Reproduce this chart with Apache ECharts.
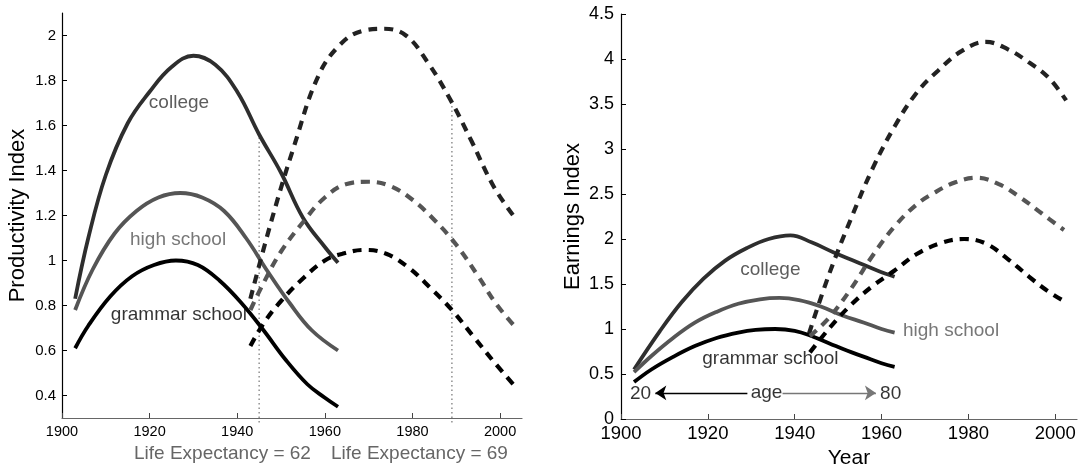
<!DOCTYPE html>
<html><head><meta charset="utf-8">
<script src="https://cdn.jsdelivr.net/npm/echarts@6/dist/echarts.min.js"></script>
<style>html,body{margin:0;padding:0;background:#fff}#c{width:1084px;height:471px}</style>
</head><body><div id="c"></div>
<script>
const FONT = '"Liberation Sans", Arial, Helvetica, sans-serif';

// ---- tick labels ----
const xTicks = [1900, 1920, 1940, 1960, 1980, 2000];
const prodTicks = [0.4, 0.6, 0.8, 1, 1.2, 1.4, 1.6, 1.8, 2];
const earnTicks = [0, 0.5, 1, 1.5, 2, 2.5, 3, 3.5, 4, 4.5];

// ---- Productivity index (left panel): [year, value] ----
const prodCollege = [[1903,0.83],[1906,1.10],[1910,1.38],[1915,1.61],[1920,1.75],[1925,1.86],[1930,1.91],[1935,1.87],[1940,1.75],[1945,1.56],[1950,1.39],[1955,1.19],[1960,1.06],[1963,0.99]];
const prodHigh = [[1903,0.78],[1907,0.96],[1912,1.12],[1917,1.22],[1922,1.28],[1927,1.30],[1932,1.28],[1937,1.22],[1942,1.10],[1947,0.95],[1952,0.81],[1957,0.69],[1963,0.60]];
const prodGrammar = [[1903,0.61],[1906,0.71],[1911,0.84],[1916,0.93],[1921,0.98],[1926,1.00],[1931,0.98],[1936,0.91],[1941,0.81],[1946,0.69],[1951,0.56],[1956,0.45],[1960,0.39],[1963,0.35]];
const prodCollegeFut = [[1943,0.83],[1948,1.19],[1953,1.51],[1958.5,1.82],[1963.5,1.96],[1968.5,2.02],[1973.5,2.03],[1978.5,2.00],[1983.5,1.88],[1988.5,1.72],[1993.5,1.53],[1998.5,1.33],[2003,1.20]];
const prodHighFut = [[1943,0.78],[1946,0.90],[1950,1.04],[1955,1.17],[1960,1.28],[1965,1.34],[1970,1.35],[1975,1.33],[1980,1.27],[1985,1.18],[1990,1.07],[1995,0.93],[1999,0.81],[2003,0.715]];
const prodGrammarFut = [[1943,0.62],[1946,0.72],[1950,0.82],[1955,0.92],[1960,1.00],[1964,1.03],[1969,1.047],[1974,1.03],[1979,0.97],[1984,0.88],[1989,0.78],[1994,0.66],[1999,0.54],[2003,0.45]];

// life-expectancy markers
const lifeExpYears = [1945, 1989];
const lifeExpTops = [1.56, 1.70];
const lifeExpLabels = ['Life Expectancy = 62', 'Life Expectancy = 69'];

// ---- Earnings index (right panel): [year, value] ----
const earnCollege = [[1903,0.55],[1909,0.98],[1914,1.30],[1919,1.56],[1924,1.76],[1929,1.90],[1934,2.00],[1939,2.04],[1944,1.96],[1949,1.85],[1954,1.75],[1959,1.65],[1963,1.58]];
const earnHigh = [[1903,0.52],[1907,0.70],[1912,0.90],[1917,1.07],[1922,1.19],[1927,1.28],[1932,1.33],[1936.5,1.345],[1941,1.32],[1946,1.25],[1951,1.15],[1956,1.07],[1960,1.00],[1963,0.96]];
const earnGrammar = [[1903,0.41],[1907,0.55],[1912,0.69],[1917,0.81],[1922,0.90],[1927,0.96],[1931,0.99],[1935.5,1.00],[1940,0.98],[1944,0.92],[1948,0.84],[1952,0.76],[1956,0.69],[1960,0.62],[1963,0.58]];
const earnCollegeFut = [[1943.3,0.95],[1948,1.62],[1953,2.23],[1958,2.79],[1963,3.25],[1968,3.62],[1973,3.87],[1978.5,4.09],[1984,4.19],[1989,4.11],[1994,3.96],[1998.5,3.79],[2002.5,3.54]];
const earnHighFut = [[1943.5,0.92],[1948,1.13],[1953,1.45],[1958,1.82],[1963,2.14],[1968,2.38],[1972,2.51],[1977,2.63],[1982,2.68],[1987,2.61],[1992,2.46],[1997,2.28],[2002,2.10]];
const earnGrammarFut = [[1943.5,0.74],[1948,1.01],[1953,1.27],[1958,1.48],[1963,1.65],[1968,1.83],[1974,1.96],[1979,2.00],[1984,1.95],[1989,1.78],[1994,1.58],[1998,1.43],[2002,1.31]];

// ---- annotations: [year, value, text, color] ----
const prodNotes = [[1926.7,1.70,'college','#333'],[1926.5,1.094,'high school','#555'],[1926.7,0.759,'grammar school','#000']];
const earnNotes = [[1934.4,1.66,'college','#333'],[1976,0.977,'high school','#555'],[1934.4,0.664,'grammar school','#000'],[1904.5,0.277,'20','#000'],[1933.5,0.295,'age','#000'],[1962.1,0.277,'80','#000']];
const ageArrowY = 0.29;
const ageArrowLeft = [1929.1, 1907.9];
const ageArrowRight = [1937.2, 1958.7];

const COLORS = {college:'#2e2e2e', high:'#555555', grammar:'#000000', collegeFut:'#222222'};

function solid(idx, data, color) {
  return {type:'line', xAxisIndex:idx, yAxisIndex:idx, data, smooth:0.4, symbol:'none',
    lineStyle:{color, width:3.8, cap:'butt'}, silent:true, z:3};
}
function dashed(idx, data, color) {
  return {type:'line', xAxisIndex:idx, yAxisIndex:idx, data, smooth:0.4, symbol:'none',
    lineStyle:{color, width:4.2, type:[9,7], cap:'butt'}, silent:true, z:4};
}
function notes(idx, arr, size) {
  return {type:'scatter', xAxisIndex:idx, yAxisIndex:idx, symbolSize:1, silent:true, z:6,
    itemStyle:{color:'rgba(0,0,0,0)'},
    data: arr.map(n => ({name:n[2], value:[n[0], n[1]], label:{color:n[3]}})),
    label:{show:true, position:'inside', formatter:'{b}', fontSize:size, fontFamily:FONT}};
}

const xBase = (idx, fs, margin) => ({
  type:'value', gridIndex:idx, min:1900, max:2005,
  axisLine:{show:true, onZero:false, lineStyle:{color:'#666', width:1.2}},
  axisTick:{show:true, inside:true, length:5, customValues:xTicks, lineStyle:{color:'#444'}},
  axisLabel:{customValues:xTicks, formatter:v => String(v), fontSize:fs, color:'#000', fontFamily:FONT, margin},
  splitLine:{show:false}
});
const yBase = (idx, ticks, fs, margin) => ({
  type:'value', gridIndex:idx,
  axisLine:{show:true, onZero:false, lineStyle:{color:'#000', width:1.2}},
  axisTick:{show:true, inside:true, length:5, customValues:ticks, lineStyle:{color:'#000'}},
  axisLabel:{customValues:ticks, formatter:v => String(v), fontSize:fs, color:'#000', fontFamily:FONT, margin},
  splitLine:{show:false}
});

const series = [
  solid(0, prodCollege, COLORS.college),
  solid(0, prodHigh, COLORS.high),
  solid(0, prodGrammar, COLORS.grammar),
  dashed(0, prodCollegeFut, COLORS.collegeFut),
  dashed(0, prodHighFut, COLORS.high),
  dashed(0, prodGrammarFut, COLORS.grammar),
  notes(0, prodNotes, 19),
  solid(1, earnCollege, COLORS.college),
  solid(1, earnHigh, COLORS.high),
  solid(1, earnGrammar, COLORS.grammar),
  dashed(1, earnCollegeFut, COLORS.collegeFut),
  dashed(1, earnHighFut, COLORS.high),
  dashed(1, earnGrammarFut, COLORS.grammar),
  Object.assign(notes(1, earnNotes, 19), {
    markLine:{silent:true, symbol:['none','arrow'], symbolSize:11, label:{show:false},
      lineStyle:{color:'#000', width:1.3, type:'solid'},
      data:[
        [{coord:[ageArrowLeft[0], ageArrowY]}, {coord:[ageArrowLeft[1], ageArrowY]}],
        [{coord:[ageArrowRight[0], ageArrowY], lineStyle:{color:'#777'}}, {coord:[ageArrowRight[1], ageArrowY]}]
      ]}
  })
];
lifeExpYears.forEach((yr, i) => {
  series.push({type:'line', xAxisIndex:0, yAxisIndex:0, clip:false, symbol:'none', silent:true, z:2,
    data:[[yr, 0.28], [yr, lifeExpTops[i]]],
    lineStyle:{color:'#888', width:1.4, type:[1.5,3]}});
});

const option = {
  animation:false,
  backgroundColor:'#fff',
  textStyle:{fontFamily:FONT},
  grid:[
    {left:62, top:13, width:460, height:405, outerBoundsMode:'none', containLabel:false},
    {left:621, top:14, width:456, height:405, outerBoundsMode:'none', containLabel:false}
  ],
  xAxis:[
    xBase(0, 14.5, 6),
    Object.assign(xBase(1, 18.5, 5), {name:'Year', nameLocation:'middle', nameGap:28,
      nameTextStyle:{fontSize:21, color:'#000', fontFamily:FONT}})
  ],
  yAxis:[
    Object.assign(yBase(0, prodTicks, 15, 6), {min:0.3, max:2.1, name:'Productivity Index', nameLocation:'middle', nameGap:33, nameRotate:90,
      nameTextStyle:{fontSize:22, color:'#000', fontFamily:FONT}}),
    Object.assign(yBase(1, earnTicks, 18, 7), {min:0, max:4.5, name:'Earnings Index', nameLocation:'middle', nameGap:37, nameRotate:90,
      nameTextStyle:{fontSize:22, color:'#000', fontFamily:FONT}})
  ],
  graphic: lifeExpLabels.map((t, i) => ({
    type:'text', left: [134, 331][i], top: 444,
    style:{text:t, fill:'#666', font:'19px ' + FONT}
  })),
  series
};
const chart = echarts.init(document.getElementById('c'), null, {renderer:'canvas'});
chart.setOption(option);
</script>
</body></html>
